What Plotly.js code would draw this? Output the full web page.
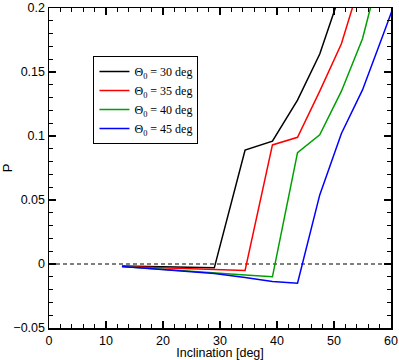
<!DOCTYPE html>
<html>
<head>
<meta charset="utf-8">
<script src="https://cdn.plot.ly/plotly-3.0.1.min.js"></script>
<style>
  html, body { margin: 0; padding: 0; background: #fff; }
  #chart { width: 399px; height: 360px; }
</style>
</head>
<body>
<div id="chart"></div>
<script>
// inclination grid [deg] and P values
var inc30 = [12.8, 29.0, 34.4, 39.2, 43.6, 47.5, 51.3];
var p30   = [-0.0015, -0.003, 0.089, 0.096, 0.128, 0.164, 0.214];

var inc35 = [12.8, 29.0, 34.4, 39.2, 43.6, 47.5, 51.3, 55.0];
var p35   = [-0.002, -0.0042, -0.005, 0.093, 0.099, 0.135, 0.172, 0.226];

var inc40 = [12.8, 29.0, 34.4, 39.2, 43.6, 47.5, 51.3, 55.0, 58.7];
var p40   = [-0.002, -0.0065, -0.0085, -0.010, 0.087, 0.101, 0.135, 0.176, 0.24];

var inc45 = [12.8, 29.0, 34.4, 39.2, 43.6, 47.5, 51.3, 55.0, 58.7, 62.0];
var p45   = [-0.002, -0.0075, -0.0105, -0.0137, -0.015, 0.054, 0.102, 0.136, 0.180, 0.22];

var names  = ['Θ<sub>0</sub> = 30 deg', 'Θ<sub>0</sub> = 35 deg', 'Θ<sub>0</sub> = 40 deg', 'Θ<sub>0</sub> = 45 deg'];
var colors = ['#000000', '#ff0000', '#00a000', '#0000ff'];

var xs = [inc30, inc35, inc40, inc45];
var ys = [p30, p35, p40, p45];

var traces = [];
// zero reference line
traces.push({x: [0, 60], y: [0, 0], mode: 'lines', showlegend: false,
    line: {color: '#000', width: 1, dash: '4px,3px'}, hoverinfo: 'skip'});
for (let i = 0; i < 4; ++i){
    traces.push({x: xs[i], y: ys[i], mode: 'lines', name: names[i],
        line: {color: colors[i], width: 1.5}});
}

var sans = 'Liberation Sans, Arial, sans-serif';
var axisBase = {
    showline: true, linecolor: '#000', linewidth: 1.5, mirror: 'allticks',
    ticks: 'inside', ticklen: 7, tickwidth: 1.5, tickcolor: '#000',
    showgrid: false, zeroline: false, ticklabeloverflow: 'allow',
    tickfont: {family: sans, size: 12.5, color: '#000'}
};

var layout = {
    width: 399, height: 360,
    margin: {l: 49, r: 8, t: 8, b: 32},
    paper_bgcolor: '#fff', plot_bgcolor: '#fff',
    xaxis: Object.assign({}, axisBase, {
        range: [0, 60], dtick: 10, tick0: 0,
        minor: {dtick: 2, ticks: 'inside', ticklen: 4, tickwidth: 1.2, tickcolor: '#000', showgrid: false},
        title: {text: 'Inclination [deg]', standoff: 3, font: {family: sans, size: 12.5, color: '#000'}}
    }),
    yaxis: Object.assign({}, axisBase, {
        range: [-0.05, 0.200001], dtick: 0.05, tick0: 0,
        minor: {dtick: 0.01, ticks: 'inside', ticklen: 4, tickwidth: 1.2, tickcolor: '#000', showgrid: false},
        title: {text: 'P', standoff: 4, font: {family: sans, size: 13, color: '#000'}}
    }),
    showlegend: true,
    legend: {
        x: 0.13, y: 0.85, xanchor: 'left', yanchor: 'top',
        bgcolor: '#fff', bordercolor: '#000', borderwidth: 1,
        font: {family: 'Liberation Serif, Times New Roman, serif', size: 12, color: '#000'},
        itemwidth: 30, tracegroupgap: 0
    }
};

Plotly.newPlot('chart', traces, layout, {displayModeBar: false, staticPlot: true});
</script>
</body>
</html>
